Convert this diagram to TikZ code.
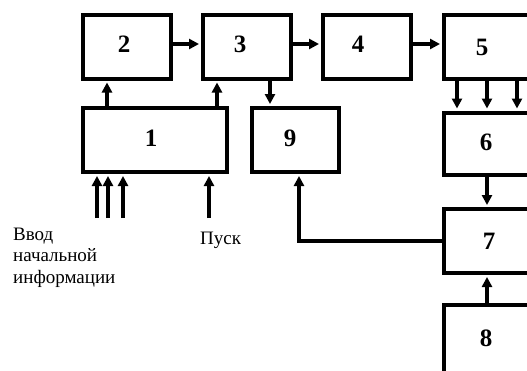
\documentclass[tikz,border=0pt]{standalone}
\usepackage{fontspec}
\setmainfont{Liberation Serif}
\usetikzlibrary{arrows.meta}
\begin{document}
\begin{tikzpicture}[x=1pt,y=-1pt,
  box/.style={draw, line width=4pt, minimum width=88pt, minimum height=64pt, inner sep=0pt},
  num/.style={font=\fontsize{25}{25}\selectfont\bfseries, inner sep=0pt},
  arr/.style={line width=3.5pt, -{Triangle[length=10pt,width=10pt]}, shorten >=2pt},
  lab/.style={font=\fontsize{19}{21.5}\selectfont, align=left, inner sep=0pt}]
\useasboundingbox (0,0) rectangle (527,370);
\clip (0,0) rectangle (527,370);
% boxes
\node[box] (b2) at (127,46.5) {};
\node[box] (b3) at (247,46.5) {};
\node[box] (b4) at (367,46.5) {};
\node[box] (b5) at (488,46.5) {};
\node[box, minimum width=144pt] (b1) at (155,140) {};
\node[box, minimum width=87pt] (b9) at (295.5,140) {};
\node[box, minimum height=62pt] (b6) at (488,143.5) {};
\node[box] (b7) at (488,241) {};
\node[box, minimum height=75pt] (b8) at (488,342.5) {};
% numbers
\node[num] (n1) at (151,138) {1};
\node[num] (n2) at (124,44.5) {2};
\node[num] (n3) at (240,44.5) {3};
\node[num] (n4) at (358,44.5) {4};
\node[num] (n5) at (482,47) {5};
\node[num] (n6) at (486,142) {6};
\node[num] (n7) at (489,241) {7};
\node[num] (n8) at (486,338) {8};
\node[num] (n9) at (290,138) {9};
% arrows along the top
\draw[arr] (b2.east |- 0,44) -- (b3.west |- 0,44);
\draw[arr] (b3.east |- 0,44) -- (b4.west |- 0,44);
\draw[arr] (b4.east |- 0,44) -- (b5.west |- 0,44);
% from 1
\draw[arr] (107,0 |- b1.north) -- (107,0 |- b2.south);
\draw[arr] (217,0 |- b1.north) -- (217,0 |- b3.south);
% 3 to 9
\draw[arr] (270,0 |- b3.south) -- (270,0 |- b9.north);
% 5 to 6
\draw[arr] (457,0 |- b5.south) -- (457,0 |- b6.north);
\draw[arr] (487,0 |- b5.south) -- (487,0 |- b6.north);
\draw[arr] (517,0 |- b5.south) -- (517,0 |- b6.north);
% 6 to 7, 8 to 7
\draw[arr] (487,0 |- b6.south) -- (487,0 |- b7.north);
\draw[arr] (487,0 |- b8.north) -- (487,0 |- b7.south);
% 7 to 9
\draw[arr] (b7.west) -| (299,0 |- b9.south);
% inputs
\coordinate (i1) at (97,218);
\coordinate (i2) at (108,218);
\coordinate (i3) at (123,218);
\coordinate (i4) at (209,218);
\foreach \c in {i1,i2,i3,i4} \draw[arr] (\c) -- (\c |- b1.south);
% labels
\node[lab, anchor=base west] (t1) at (13,283) {Ввод\\начальной\\информации};
\node[lab, anchor=base west] (t2) at (200,244) {Пуск};
\end{tikzpicture}
\end{document}
